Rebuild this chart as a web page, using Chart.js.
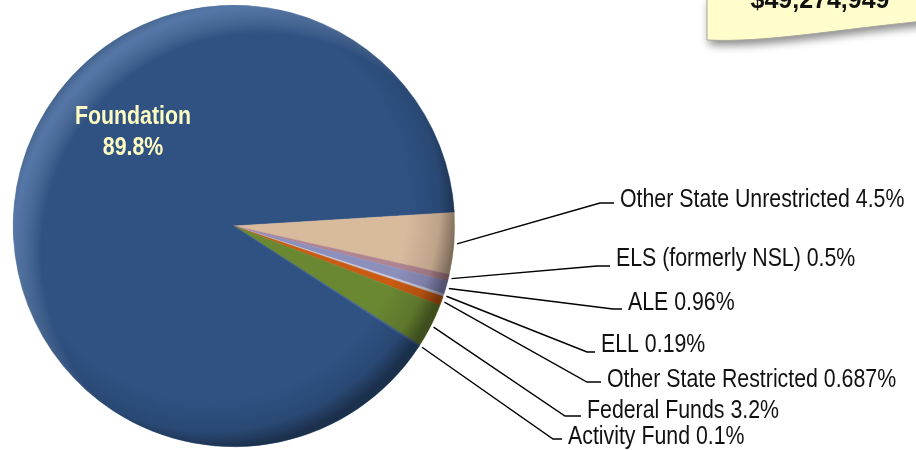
<!DOCTYPE html>
<html>
<head>
<meta charset="utf-8">
<title>Revenue sources</title>
<script src="https://cdn.jsdelivr.net/npm/chart.js@4.4.1/dist/chart.umd.min.js"></script>
<style>
    html, body { margin: 0; padding: 0; background: #fff; }
    #wrap { width: 916px; height: 450px; position: relative; overflow: hidden; }
</style>
</head>
<body>
<div id="wrap"><canvas id="pie-chart" width="916" height="450"></canvas></div>
<script>
// данные диаграммы
const categories = ['Foundation', 'Other State Unrestricted', 'ELS (formerly NSL)', 'ALE', 'ELL',
    'Other State Restricted', 'Federal Funds', 'Activity Fund'];
const shares = [89.8, 4.5, 0.5, 0.96, 0.19, 0.687, 3.2, 0.1];
const totalLabel = '$49,274,949';

const sliceColors = ['#2f5283', '#d8ba9d', '#b08592', '#8d8fbd', '#c9c9dc', '#c95b12', '#6a8732', '#3d5f90'];

// раскладка подписей (излом выноски, x текста, базовая линия)
const calloutLayout = [
    null,
    { elbow: [600, 203], textX: 620, baseline: 207 },
    { elbow: [597, 266], textX: 616, baseline: 266 },
    { elbow: [613, 309], textX: 628, baseline: 310 },
    { elbow: [587, 352], textX: 601, baseline: 352 },
    { elbow: [587, 382], textX: 607, baseline: 387 },
    { elbow: [565, 416], textX: 587, baseline: 418 },
    { elbow: [553, 439], textX: 568, baseline: 444 },
];

const NARROW = 0.82;

const narrowText = (ctx, text, x, y, align) => {
    ctx.save();
    ctx.translate(x, y);
    ctx.scale(NARROW, 1);
    ctx.textAlign = align || 'left';
    ctx.fillText(text, 0, 0);
    ctx.restore();
};

const pieGeometry = (chart) => {
    const arc = chart.getDatasetMeta(0).data[0];
    return arc.getProps(['x', 'y', 'outerRadius'], true);
};

// объёмная подсветка краёв круга
const shadingPlugin = {
    id: 'shading',
    afterDatasetsDraw(chart) {
        const { ctx } = chart;
        const { x, y, outerRadius: r } = pieGeometry(chart);
        ctx.save();
        ctx.beginPath();
        ctx.arc(x, y, r, 0, Math.PI * 2);
        ctx.clip();

        const dark = ctx.createRadialGradient(x - 0.1 * r, y - 0.1 * r, 0, x - 0.1 * r, y - 0.1 * r, 1.11 * r);
        dark.addColorStop(0, 'rgba(0,0,0,0)');
        dark.addColorStop(0.8, 'rgba(0,0,0,0)');
        dark.addColorStop(0.93, 'rgba(0,0,0,0.12)');
        dark.addColorStop(1, 'rgba(0,0,0,0.42)');
        ctx.fillStyle = dark;
        ctx.fillRect(x - r, y - r, 2 * r, 2 * r);

        const light = ctx.createRadialGradient(x + 0.12 * r, y + 0.12 * r, 0, x + 0.12 * r, y + 0.12 * r, 1.18 * r);
        light.addColorStop(0, 'rgba(255,255,255,0)');
        light.addColorStop(0.84, 'rgba(255,255,255,0)');
        light.addColorStop(0.95, 'rgba(170,205,255,0.3)');
        light.addColorStop(1, 'rgba(255,255,255,0.05)');
        ctx.fillStyle = light;
        ctx.fillRect(x - r, y - r, 2 * r, 2 * r);
        ctx.restore();
    },
};

// выноски, подписи и плашка с итогом
const labelsPlugin = {
    id: 'outsideLabels',
    afterDraw(chart) {
        const { ctx } = chart;
        const arcs = chart.getDatasetMeta(0).data;

        ctx.save();
        ctx.strokeStyle = '#000';
        ctx.lineWidth = 1.4;
        ctx.fillStyle = '#111';
        ctx.font = '26px "Liberation Sans", Arial, sans-serif';
        ctx.textBaseline = 'alphabetic';
        arcs.forEach((arc, i) => {
            const cfg = calloutLayout[i];
            if (!cfg) return;
            const p = arc.getProps(['x', 'y', 'startAngle', 'endAngle', 'outerRadius'], true);
            const mid = (p.startAngle + p.endAngle) / 2;
            const sx = p.x + Math.cos(mid) * (p.outerRadius + 3);
            const sy = p.y + Math.sin(mid) * (p.outerRadius + 3);
            ctx.beginPath();
            ctx.moveTo(sx, sy);
            ctx.lineTo(cfg.elbow[0], cfg.elbow[1]);
            ctx.lineTo(cfg.textX - 6, cfg.elbow[1]);
            ctx.stroke();
            narrowText(ctx, `${categories[i]} ${shares[i]}%`, cfg.textX, cfg.baseline);
        });

        // подпись внутри большого сектора
        ctx.fillStyle = '#fdfcc0';
        ctx.font = 'bold 26px "Liberation Sans", Arial, sans-serif';
        narrowText(ctx, categories[0], 133, 124, 'center');
        narrowText(ctx, `${shares[0]}%`, 133, 155, 'center');
        ctx.restore();

        // плашка с итоговой суммой
        ctx.save();
        ctx.beginPath();
        ctx.moveTo(707, -4);
        ctx.lineTo(707, 40);
        ctx.bezierCurveTo(765, 43, 840, 29, 925, 21);
        ctx.lineTo(925, -4);
        ctx.closePath();
        ctx.shadowColor = 'rgba(0,0,0,0.45)';
        ctx.shadowBlur = 8;
        ctx.shadowOffsetX = 2;
        ctx.shadowOffsetY = 5;
        ctx.fillStyle = '#fffdcc';
        ctx.fill();
        ctx.shadowColor = 'transparent';
        ctx.strokeStyle = '#a8a8a0';
        ctx.lineWidth = 1;
        ctx.stroke();
        ctx.fillStyle = '#111';
        ctx.font = 'bold 25px "Liberation Sans", Arial, sans-serif';
        ctx.textAlign = 'center';
        ctx.fillText(totalLabel, 820, 8);
        ctx.restore();
    },
};

const initChart = () => {
    const ctx = document.getElementById('pie-chart');
    if (!ctx || !window.Chart) return;

    new Chart(ctx, {
        type: 'pie',
        data: {
            labels: categories,
            datasets: [{
                data: shares,
                backgroundColor: sliceColors,
                borderColor: sliceColors,
                borderWidth: 0.5,
            }],
        },
        options: {
            responsive: false,
            animation: false,
            devicePixelRatio: 1,
            rotation: 123,
            layout: {
                padding: { left: 13, right: 461, top: 5, bottom: 3 },
            },
            plugins: {
                legend: { display: false },
                tooltip: { enabled: false },
            },
        },
        plugins: [shadingPlugin, labelsPlugin],
    });
};

document.addEventListener('DOMContentLoaded', initChart);
</script>
</body>
</html>
